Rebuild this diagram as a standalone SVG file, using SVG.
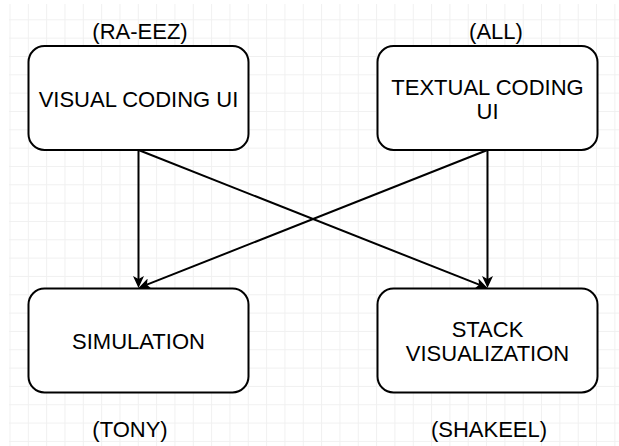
<svg xmlns="http://www.w3.org/2000/svg" width="619" height="446" viewBox="0 0 619 446">
  <style>
    .box { fill: #ffffff; stroke: #000000; stroke-width: 2; }
    .lbl { font-family: "Liberation Sans", Arial, Helvetica, sans-serif; font-size: 22px; fill: #000000; text-anchor: middle; }
    .edge { fill: none; stroke: #000000; stroke-width: 2; marker-end: url(#arrow); }
  </style>
  <defs>
    <pattern id="grid" x="9.5" y="1" width="18.33" height="18.33" patternUnits="userSpaceOnUse">
      <path d="M0.5 0 V18.33 M0 0.5 H18.33" fill="none" stroke="#f0f0f0" stroke-width="1"/>
    </pattern>
    <marker id="arrow" viewBox="0 0 12 11" refX="3" refY="5.5" markerWidth="12" markerHeight="11" markerUnits="userSpaceOnUse" orient="auto">
      <path d="M0 0 L12 5.5 L0 11 L3 5.5 Z" fill="#000000"/>
    </marker>
  </defs>

  <!-- background grid -->
  <rect width="619" height="446" fill="#ffffff"/>
  <rect x="9" y="4" width="610" height="442" fill="url(#grid)"/>

  <!-- connectors -->
  <g id="connectors">
    <path class="edge" d="M138.5 150 V279"/>
    <path class="edge" d="M138.5 150 L479.13 284.69"/>
    <path class="edge" d="M487.5 150 V279"/>
    <path class="edge" d="M487.5 150 L146.87 284.69"/>
  </g>

  <g id="visual-coding-ui">
    <rect class="box" x="28.5" y="46" width="220" height="104" rx="16" ry="16"/>
    <text class="lbl" x="138.5" y="106.5">VISUAL CODING UI</text>
    <text class="lbl" x="140" y="39">(RA-EEZ)</text>
  </g>

  <g id="textual-coding-ui">
    <rect class="box" x="377.5" y="46" width="220" height="104" rx="16" ry="16"/>
    <text class="lbl" x="487.5" y="95">TEXTUAL CODING</text>
    <text class="lbl" x="487.5" y="118.5">UI</text>
    <text class="lbl" x="496" y="39">(ALL)</text>
  </g>

  <g id="simulation">
    <rect class="box" x="28.5" y="288.5" width="220" height="104" rx="16" ry="16"/>
    <text class="lbl" x="138.5" y="348.5">SIMULATION</text>
    <text class="lbl" x="130" y="436.5">(TONY)</text>
  </g>

  <g id="stack-visualization">
    <rect class="box" x="377.5" y="288.5" width="220" height="104" rx="16" ry="16"/>
    <text class="lbl" x="487.5" y="337">STACK</text>
    <text class="lbl" x="487.5" y="360.5">VISUALIZATION</text>
    <text class="lbl" x="489" y="436.5">(SHAKEEL)</text>
  </g>
</svg>
